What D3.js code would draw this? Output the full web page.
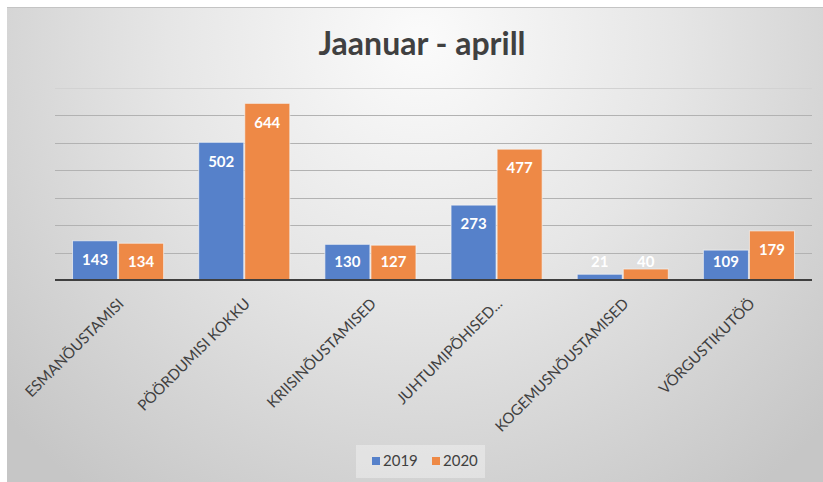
<!DOCTYPE html>
<html>
<head>
<meta charset="utf-8">
<script src="https://cdn.jsdelivr.net/npm/d3@7"></script>
<style>
  html, body { margin: 0; padding: 0; background: #fff; }
  svg { display: block; }
</style>
</head>
<body>
<div id="chart"></div>
<script>
// data
const categories = ["ESMANÕUSTAMISI", "PÖÖRDUMISI KOKKU", "KRIISINÕUSTAMISED", "JUHTUMIPÕHISED...", "KOGEMUSNÕUSTAMISED", "VÕRGUSTIKUTÖÖ"];
const seriesNames = ["2019", "2020"];
const values2019 = [143, 502, 130, 273, 21, 109];
const values2020 = [134, 644, 127, 477, 40, 179];
const gridTicks = [100, 200, 300, 400, 500, 600, 700];

const colors = { "2019": "#5681ca", "2020": "#ee8946" };

const W = 823, H = 482;
const plot = { left: 55, right: 812, top: 88, bottom: 280 };

const svg = d3.select("#chart")
  .append("svg")
  .attr("width", W)
  .attr("height", H);

// background gradient like excel style
const defs = svg.append("defs");
const grad = defs.append("radialGradient")
  .attr("id", "bg")
  .attr("gradientUnits", "userSpaceOnUse")
  .attr("cx", 420).attr("cy", 40).attr("r", 560);
grad.append("stop").attr("offset", "0%").attr("stop-color", "#fbfbfb");
grad.append("stop").attr("offset", "45%").attr("stop-color", "#e6e6e6");
grad.append("stop").attr("offset", "100%").attr("stop-color", "#c6c6c6");

svg.append("rect")
  .attr("x", 7).attr("y", 7)
  .attr("width", W - 7).attr("height", H - 7)
  .attr("fill", "url(#bg)");
svg.append("line")
  .attr("x1", 7).attr("x2", W).attr("y1", 7.5).attr("y2", 7.5)
  .attr("stroke", "#c4c4c4");

// title
svg.append("text")
  .attr("x", 422).attr("y", 55)
  .attr("text-anchor", "middle")
  .attr("font-family", "Lato, 'Open Sans', sans-serif")
  .attr("font-weight", "bold")
  .attr("font-size", "32px")
  .attr("fill", "#404040")
  .text("Jaanuar - aprill");

// scales
const x0 = d3.scaleBand()
  .domain(categories)
  .range([plot.left, plot.right])
  .paddingInner(0.27)
  .paddingOuter(0.135);

const x1 = d3.scaleBand()
  .domain(seriesNames)
  .range([0, x0.bandwidth()]);

const y = d3.scaleLinear()
  .domain([0, 700])
  .range([plot.bottom, plot.top]);

// gridlines
svg.append("g")
  .selectAll("line")
  .data(gridTicks)
  .enter()
  .append("line")
  .attr("x1", plot.left).attr("x2", plot.right)
  .attr("y1", d => Math.round(y(d)) + 0.5)
  .attr("y2", d => Math.round(y(d)) + 0.5)
  .attr("stroke", d => d === 700 ? "#d2d2d2" : "#b2b2b2")
  .attr("stroke-width", 1);

// bars
const rows = categories.map((c, i) => ({
  cat: c,
  vals: [
    { key: "2019", v: values2019[i] },
    { key: "2020", v: values2020[i] }
  ]
}));

const groups = svg.append("g")
  .selectAll("g")
  .data(rows)
  .enter()
  .append("g")
  .attr("transform", d => `translate(${x0(d.cat)},0)`);

groups.selectAll("rect")
  .data(d => d.vals)
  .enter()
  .append("rect")
  .attr("x", d => x1(d.key) + 0.5)
  .attr("y", d => y(d.v))
  .attr("width", x1.bandwidth() - 1)
  .attr("height", d => y(0) - y(d.v))
  .attr("fill", d => colors[d.key])
  .attr("stroke", "#f4f4f4")
  .attr("stroke-opacity", 0.7)
  .attr("stroke-width", 1);

// data labels (inside end)
groups.selectAll("text")
  .data(d => d.vals)
  .enter()
  .append("text")
  .attr("x", d => x1(d.key) + x1.bandwidth() / 2)
  .attr("y", d => Math.min(y(d.v) + 19, y(0) - 18))
  .attr("dy", "0.35em")
  .attr("text-anchor", "middle")
  .attr("font-family", "Lato, 'Open Sans', sans-serif")
  .attr("font-weight", "bold")
  .attr("font-size", "15px")
  .attr("fill", "#ffffff")
  .text(d => d.v);

// baseline
svg.append("line")
  .attr("x1", plot.left).attr("x2", plot.right)
  .attr("y1", y(0)).attr("y2", y(0))
  .attr("stroke", "#3f3f3f")
  .attr("stroke-width", 2);

// category labels rotated
const xAxis = svg.append("g")
  .attr("transform", `translate(0,${plot.bottom})`)
  .call(d3.axisBottom(x0).tickSize(0).tickPadding(0));
xAxis.select(".domain").remove();
xAxis.selectAll("text")
  .attr("font-family", "Lato, 'Open Sans', sans-serif")
  .attr("font-size", "15px")
  .attr("fill", "#404040")
  .attr("text-anchor", "end")
  .attr("dy", "0.35em")
  .attr("transform", "translate(3,21) rotate(-45)");

// legend
const legend = svg.append("g").attr("transform", "translate(356,445)");
legend.append("rect")
  .attr("width", 129).attr("height", 33)
  .attr("fill", "#ffffff").attr("fill-opacity", 0.35);
seriesNames.forEach((s, i) => {
  const lx = 16 + i * 60;
  legend.append("rect")
    .attr("x", lx).attr("y", 12)
    .attr("width", 8).attr("height", 8)
    .attr("fill", colors[s]);
  legend.append("text")
    .attr("x", lx + 11).attr("y", 16)
    .attr("dy", "0.36em")
    .attr("font-family", "Lato, 'Open Sans', sans-serif")
    .attr("font-size", "15px")
    .attr("fill", "#404040")
    .text(s);
});
</script>
</body>
</html>
